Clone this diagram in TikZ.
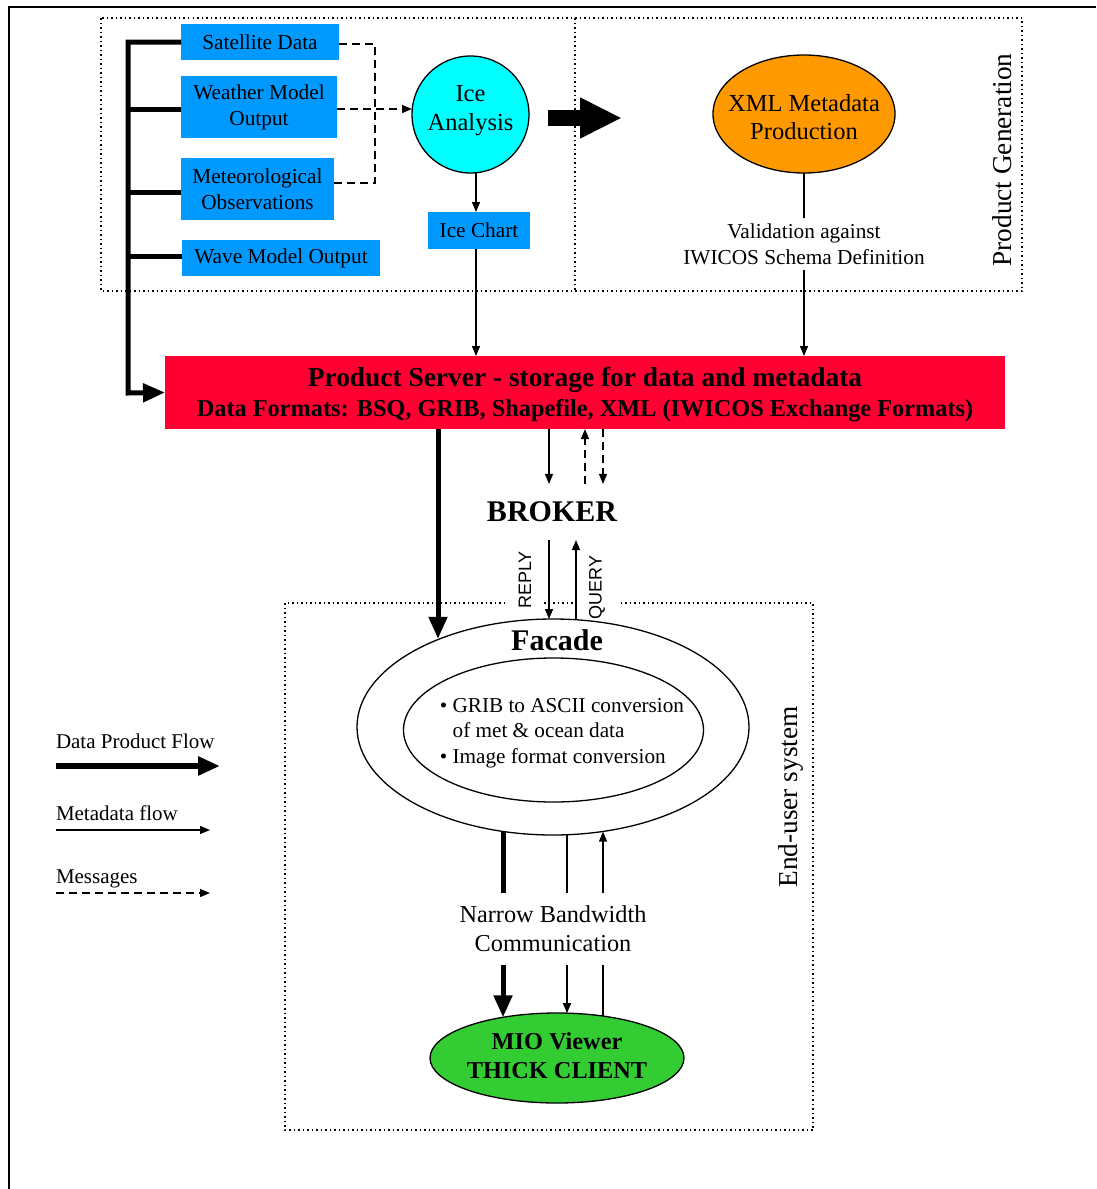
\documentclass[tikz,border=0pt]{standalone}
\usepackage{fontspec}
\setmainfont{Liberation Serif}
\setsansfont{Liberation Sans}
\usetikzlibrary{arrows.meta,shapes.geometric,calc}
\definecolor{boxblue}{RGB}{0,153,255}
\definecolor{icecyan}{RGB}{0,255,255}
\definecolor{xmlorange}{RGB}{255,153,0}
\definecolor{serverred}{RGB}{255,0,51}
\definecolor{viewergreen}{RGB}{51,204,51}
\begin{document}
\begin{tikzpicture}[x=1pt,y=-1pt,
  every node/.style={inner sep=0pt, outer sep=0pt},
  srcbox/.style={fill=boxblue, align=center, font=\fontsize{21.3}{26}\selectfont},
  region/.style={line width=1.5pt, dash pattern=on 1.5pt off 3pt},
  bus/.style={line width=5pt, line join=miter},
  dataflow/.style={line width=5pt, line join=miter, -{Triangle[length=22pt,width=18pt]}},
  metaline/.style={line width=1.3pt},
  metaflow/.style={metaline, -{Triangle[length=10pt,width=8pt]}},
  msgline/.style={line width=1.3pt, dash pattern=on 8pt off 5pt},
  msgflow/.style={msgline, -{Triangle[length=10pt,width=8pt]}},
  blob/.style={ellipse, draw, line width=1.3pt},
  sidelabel/.style={rotate=90, font=\fontsize{27.3}{32}\selectfont},
  msglabel/.style={rotate=90, fill=white, inner xsep=1pt, inner ysep=13pt, font=\sffamily\fontsize{18}{21}\selectfont},
  legendtext/.style={anchor=west, font=\fontsize{21}{25}\selectfont}
]
\useasboundingbox (0,0) rectangle (1096,1189);

% page frame
\draw[line width=2.5pt] (9,1189) -- (9,7) -- (1096,7);

% ---------- product generation region ----------
\draw[region] (101,18) rectangle (1022,291);
\draw[region] (575,18) -- (575,291);
\node[sidelabel] (pglbl) at (1002,160) {Product Generation};

% input data sources
\node[srcbox, minimum width=158pt, minimum height=36pt] (sat) at (260,42) {Satellite Data};
\node[srcbox, minimum width=156pt, minimum height=62pt] (weather) at (259,107) {Weather Model\\Output};
\node[srcbox, minimum width=153pt, minimum height=62pt] (meteo) at (257.5,189) {Meteorological\\Observations};
\node[srcbox, minimum width=198pt, minimum height=36pt] (wave) at (281,258) {Wave Model Output};

% ice analysis
\node[circle, draw, fill=icecyan, line width=1.3pt, minimum size=117pt] (ice) at (470.5,114.5) {};
\node[align=center, font=\fontsize{24.5}{29}\selectfont] (icetext) at (470.5,111) {Ice\\Analysis};
\node[srcbox, minimum width=102pt, minimum height=37pt] (chart) at (479,230.5) {Ice Chart};

% XML metadata production
\node[blob, fill=xmlorange, minimum width=182pt, minimum height=118pt] (xml) at (804,114) {};
\node[align=center, font=\fontsize{24.5}{28.5}\selectfont] (xmltext) at (804,117) {XML Metadata\\Production};
\node[align=center, inner ysep=5pt, font=\fontsize{21.3}{26}\selectfont] (val) at (804,244) {Validation against\\IWICOS Schema Definition};

% product server
\node[fill=serverred, minimum width=840pt, minimum height=73pt] (server) at (585,392.5) {};
\node[align=center, font=\bfseries] (servertext) at (585,394.5)
  {\fontsize{27.4}{31}\selectfont Product Server - storage for data and metadata\\[6pt]
   \fontsize{24.3}{31}\selectfont Data Formats: BSQ, GRIB, Shapefile, XML (IWICOS Exchange Formats)};

% helper columns and junctions
\coordinate (bustop) at (128,42);
\coordinate (buscorner) at (128,393);
\coordinate (msgtop) at (375,44);
\coordinate (msgjoin) at (375,183);
\coordinate (chartcol) at (476,0);
\coordinate (fatstart) at (548,118);
\coordinate (fatend) at (622,118);

% data sources feeding the server
\draw[dataflow] (sat.west) -- (bustop) -- (buscorner) -- (server.west);
\draw[bus] (weather.west |- 0,109) -- (bustop |- 0,109);
\draw[bus] (meteo.west |- 0,192) -- (bustop |- 0,192);
\draw[bus] (wave.west |- 0,256) -- (bustop |- 0,256);

% messages into ice analysis
\draw[msgline] (sat.east |- msgtop) -- (msgtop) -- (msgjoin) -- (meteo.east |- msgjoin);
\draw[msgflow] (weather.east |- 0,109) -- (ice.west |- 0,109);

% ice analysis outputs
\draw[metaflow] (chartcol |- ice.south) -- (chartcol |- chart.north);
\draw[metaflow] (chartcol |- chart.south) -- (chartcol |- server.north);
\draw[line width=16pt, -{Triangle[length=42pt,width=38pt]}] (fatstart) -- (fatend);

% metadata validation path
\draw[metaline] (xml.south) -- (val.north);
\draw[metaflow] (val.south) -- (val.south |- server.north);

% ---------- broker ----------
\node[inner ysep=18pt, font=\bfseries\fontsize{30}{36}\selectfont] (broker) at (552,512) {BROKER};
\coordinate (colA) at (549,0);
\coordinate (colB) at (585,0);
\coordinate (colC) at (603,0);
\coordinate (colQ) at (576,0);
\coordinate (colD) at (438,0);
\coordinate (colE) at (503,0);
\coordinate (colF) at (567,0);
\coordinate (colG) at (603,0);

\draw[metaflow] (colA |- server.south) -- (colA |- broker.north);
\draw[msgflow] (colB |- broker.north) -- (colB |- server.south);
\draw[msgflow] (colC |- server.south) -- (colC |- broker.north);

% ---------- end-user system ----------
\draw[region] (285,603) rectangle (813,1130);
\node[sidelabel] (eulbl) at (791,797) {End-user system};
\node[msglabel] (replylbl) at (525,580) {REPLY};
\node[msglabel] (querylbl) at (597,587.5) {QUERY};

% facade
\node[blob, minimum width=392pt, minimum height=216pt] (facade) at (553,727) {};
\node[blob, minimum width=300pt, minimum height=144pt] (core) at (553.5,730) {};
\node[font=\bfseries\fontsize{30}{36}\selectfont] (facadelbl) at (557,640) {Facade};
\node[align=left, font=\fontsize{21.2}{25.5}\selectfont] (conv) at (562,733)
  {• GRIB to ASCII conversion\\\hphantom{• }of met \& ocean data\\• Image format conversion};

\draw[metaflow] (colA |- broker.south) -- (colA |- facade.north);
\draw[metaflow] (colQ |- facade.north) -- (colQ |- broker.south);
\draw[dataflow] (colD |- server.south) -- (colD |- facade.142.7);

% narrow bandwidth link to the viewer
\node[align=center, font=\fontsize{24.3}{29}\selectfont] (nbw) at (553,929) {Narrow Bandwidth\\Communication};
\coordinate (gaptop) at (0,893);
\coordinate (gapbot) at (0,965);

\node[blob, fill=viewergreen, minimum width=254pt, minimum height=90pt] (mio) at (557,1058) {};
\node[align=center, font=\bfseries\fontsize{24.3}{29}\selectfont] (miotext) at (557,1056) {MIO Viewer\\THICK CLIENT};

\draw[bus] (colE |- facade.244.4) -- (colE |- gaptop);
\draw[dataflow] (colE |- gapbot) -- (colE |- mio.143);
\draw[metaline] (colF |- facade.277.4) -- (colF |- gaptop);
\draw[metaflow] (colF |- gapbot) -- (colF |- mio.77.4);
\draw[metaline] (colG |- mio.42.4) -- (colG |- gapbot);
\draw[metaflow] (colG |- gaptop) -- (colG |- facade.295.6);

% ---------- legend ----------
\node[legendtext] (lgdata) at (56,741) {Data Product Flow};
\coordinate (lgdataA) at (56,766);
\coordinate (lgdataB) at (220,766);
\draw[dataflow, line width=6pt] (lgdataA) -- (lgdataB);
\node[legendtext] (lgmeta) at (56,813) {Metadata flow};
\coordinate (lgmetaA) at (56,830);
\coordinate (lgmetaB) at (210,830);
\draw[metaflow] (lgmetaA) -- (lgmetaB);
\node[legendtext] (lgmsg) at (56,879) {Messages};
\coordinate (lgmsgA) at (56,893);
\coordinate (lgmsgB) at (210,893);
\draw[msgflow] (lgmsgA) -- (lgmsgB);
\end{tikzpicture}
\end{document}
